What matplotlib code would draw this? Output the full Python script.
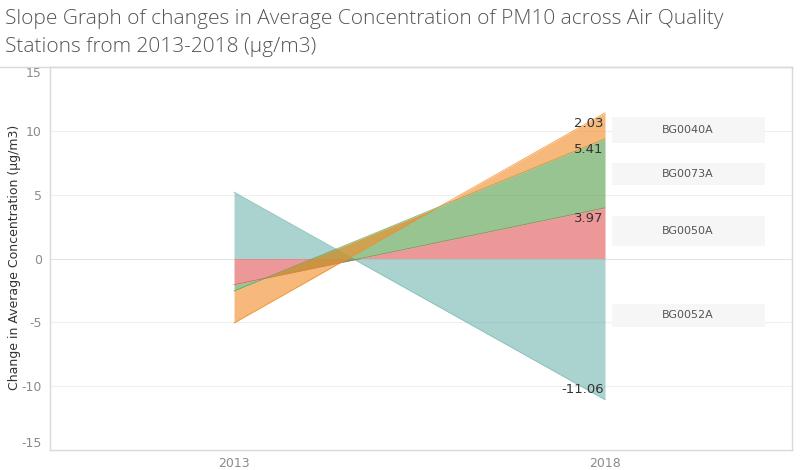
import numpy as np
from matplotlib import pyplot as plt
from matplotlib.lines import Line2D
from matplotlib.patches import Rectangle

plt.rcParams['axes.unicode_minus'] = False

# data (stacked change per station)
years = ['2013', '2018']
stations = ['BG0052A', 'BG0050A', 'BG0073A', 'BG0040A']
change_2013 = [5.2, -2.05, -0.5, -2.5]
change_2018 = [-11.06, 3.97, 5.41, 2.03]
colors = ['#76b7b2', '#e15759', '#59a14f', '#f28e2b']
y_ticks = [-15, -10, -5, 0, 5, 10, 15]

# label boxes on the right (station name, centre y in px of the reference, height px)
box_layout = {'BG0040A': (130, 26), 'BG0073A': (174, 22), 'BG0050A': (231, 30), 'BG0052A': (315, 23)}

W, H = 800, 470
fig = plt.figure(figsize=(8, 4.7), dpi=100)
ax = fig.add_axes([50 / W, 1 - 450 / H, (792 - 50) / W, (450 - 67) / H])

x = np.arange(len(years))

# stack positives and negatives separately, like tableau does
vals = np.array([change_2013, change_2018])
pos_base = np.zeros(len(years))
neg_base = np.zeros(len(years))
for i, name in enumerate(stations):
    v = vals[:, i]
    bottom = np.where(v >= 0, pos_base, neg_base)
    top = bottom + v
    pos_base = np.where(v >= 0, top, pos_base)
    neg_base = np.where(v < 0, top, neg_base)
    ax.fill_between(x, bottom, top, color=colors[i], alpha=0.62, linewidth=0, zorder=2 + i)
    ax.plot(x, top, color=colors[i], alpha=0.8, lw=0.6, zorder=2 + i)
    # value label at 2018
    if v[1] >= 0:
        ax.annotate(f'{v[1]:.2f}', (x[1], top[1]), xytext=(-1, -3), textcoords='offset points',
                    ha='right', va='top', fontsize=9.5, color='#333333', zorder=10)
    else:
        ax.annotate(f'{v[1]:.2f}', (x[1], top[1]), xytext=(-1, 3), textcoords='offset points',
                    ha='right', va='bottom', fontsize=9.5, color='#333333', zorder=10)

ax.set_xlim(-0.496, 1.504)
ax.set_ylim(-15, 15)
ax.set_xticks(x)
ax.set_xticklabels(years)
ax.set_yticks(y_ticks)
ax.tick_params(length=0, colors='#8a8a8a', labelsize=9)
ax.tick_params(axis='x', pad=5)
ax.tick_params(axis='y', pad=6)
# tableau pulls the end labels inside the axis
ylabels = ax.get_yticklabels()
ylabels[0].set_va('bottom')
ylabels[-1].set_va('top')
for t in y_ticks:
    if abs(t) < 15:
        ax.axhline(t, color='#eeeeee' if t else '#e4e4e4', lw=0.8, zorder=1)
for s in ax.spines.values():
    s.set_color('#d9d9d9')
    s.set_linewidth(1)
fig.text(15 / W, 1 - 257 / H, 'Change in Average Concentration (µg/m3)', rotation=90,
         ha='center', va='center', fontsize=9, color='#333333')

# station label boxes
for name, (cy, h) in box_layout.items():
    yb = 1 - (cy + h / 2) / H
    fig.patches.append(Rectangle((612 / W, yb), (765 - 612) / W, h / H, transform=fig.transFigure,
                                 facecolor='#f6f6f6', edgecolor='none', zorder=3))
    fig.text(688 / W, 1 - cy / H, name, ha='center', va='center', fontsize=8, color='#555555', zorder=4)

# top line running across the whole width
fig.add_artist(Line2D([0, 792 / W], [1 - 67 / H] * 2, color='#d9d9d9', lw=1))

fig.text(5 / W, 1 - 19 / H, 'Slope Graph of changes in Average Concentration of PM10 across Air Quality',
         fontsize=15, color='#555555', va='center', family='Open Sans', weight='light')
fig.text(5 / W, 1 - 47 / H, 'Stations from 2013-2018 (µg/m3)',
         fontsize=15, color='#555555', va='center', family='Open Sans', weight='light')

fig.savefig('out.png', dpi=100)
